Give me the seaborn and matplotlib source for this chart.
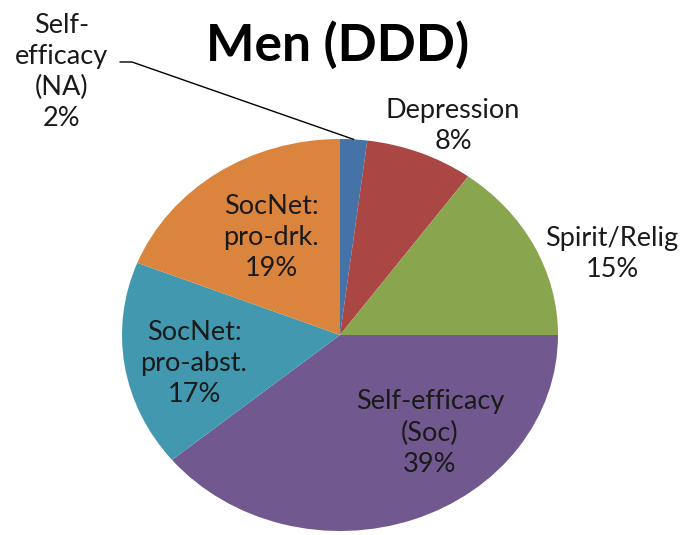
import matplotlib
matplotlib.use("Agg")
import matplotlib.pyplot as plt
import seaborn as sns
import numpy as np

categories = ["Self-\nefficacy\n(NA)", "Depression", "Spirit/Relig",
              "Self-efficacy\n(Soc)", "SocNet:\npro-abst.", "SocNet:\npro-drk."]
values = [2, 8, 15, 39, 17, 19]
colors = ["#4572A7", "#AA4643", "#89A54E", "#71588F", "#4198AF", "#DB843D"]
title = "Men (DDD)"

sns.set_theme(style="white")
plt.rcParams['font.family'] = ['Lato', 'DejaVu Sans']

W, H = 693, 535
fig = plt.figure(figsize=(W / 100, H / 100), dpi=100)
cx, cy, rx, ry = 340, 335, 218, 196
ax = fig.add_axes([(cx - rx) / W, (H - cy - ry) / H, 2 * rx / W, 2 * ry / H])
wedges, _ = ax.pie(values, colors=colors, startangle=90, counterclock=False,
                   radius=1, wedgeprops=dict(linewidth=0))
ax.set_aspect('auto')
ax.set_xlim(-1, 1)
ax.set_ylim(-1, 1)
ax.axis('off')

def d(px, py):
    return (px - cx) / rx, (cy - py) / ry

label_pos = [(62, 72), (453, 126), (612, 254), (430, 433), (194, 364), (271, 237)]
txtcol = "#1a1a1a"
for cat, v, (px, py) in zip(categories, values, label_pos):
    x, y = d(px, py)
    ax.text(x, y, f"{cat}\n{v}%", ha='center', va='center', multialignment='center',
            fontsize=19.5, linespacing=1.3, color=txtcol, clip_on=False)

# leader line for the small slice
mid = np.deg2rad(90 - values[0] / sum(values) * 360 / 2)
ex, ey = np.cos(mid), np.sin(mid)
sx, sy = d(120, 62)
kx, ky = d(132, 62)
ax.plot([sx, kx, ex], [sy, ky, ey], color="black", lw=1, clip_on=False)

fig.text(338 / W, 1 - 45 / H, title, ha='center', va='center', fontsize=37,
         fontweight='bold', color='black')

fig.savefig("out.png", dpi=100, facecolor='white')
